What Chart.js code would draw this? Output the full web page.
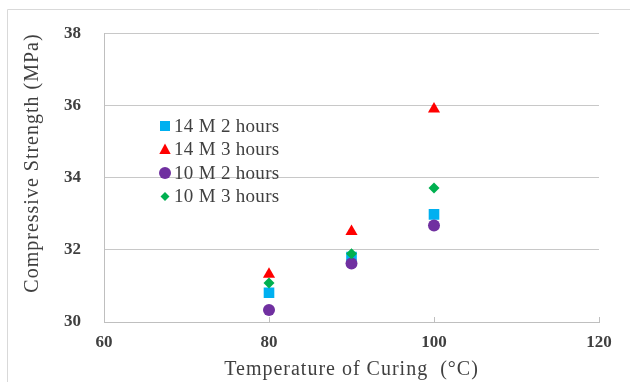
<!DOCTYPE html>
<html>
<head>
<meta charset="utf-8">
<script src="https://cdn.jsdelivr.net/npm/chart.js@4"></script>
<style>
html,body{margin:0;padding:0;background:#fff;overflow:hidden;}
#wrap{width:630px;height:382px;}
</style>
</head>
<body>
<div id="wrap"><canvas id="chart" width="630" height="382"></canvas></div>
<script>
// data
const temps = [80, 90, 100];
const s14M2h = [30.81, 31.80, 32.98];
const s14M3h = [31.32, 32.51, 35.90];
const s10M2h = [30.33, 31.62, 32.67];
const s10M3h = [31.08, 31.89, 33.71];
const seriesLabels = ['14 M 2 hours', '14 M 3 hours', '10 M 2 hours', '10 M 3 hours'];
const xTicks = [60, 80, 100, 120];
const yTicks = [30, 32, 34, 36, 38];
const xTitle = 'Temperature of Curing  (\u00B0C)';
const yTitle = 'Compressive Strength (MPa)';

const textColor = '#404040';
const serif = "'Liberation Serif', 'Times New Roman', serif";

function pts(arr){
    return temps.map((t, i) => ({x: t, y: arr[i]}));
}

// legend markers (drawn by hand, inside the plot)
function drawMarker(ctx, style, color, x, y, r){
    ctx.fillStyle = color;
    ctx.beginPath();
    if(style === 'rect'){
        ctx.rect(x - r, y - r, 2*r, 2*r);
    } else if(style === 'triangle'){
        ctx.moveTo(x, y - r);
        ctx.lineTo(x + r*0.95, y + r*0.75);
        ctx.lineTo(x - r*0.95, y + r*0.75);
        ctx.closePath();
    } else if(style === 'circle'){
        ctx.arc(x, y, r, 0, Math.PI*2);
    } else {
        ctx.moveTo(x, y - r);
        ctx.lineTo(x + r, y);
        ctx.lineTo(x, y + r);
        ctx.lineTo(x - r, y);
        ctx.closePath();
    }
    ctx.fill();
}

const extras = {
    id: 'extras',
    beforeDraw(chart){
        // outer frame: only top and left edges show
        const ctx = chart.ctx;
        ctx.save();
        ctx.strokeStyle = '#d9d9d9';
        ctx.lineWidth = 1;
        ctx.beginPath();
        ctx.moveTo(7.5, 382);
        ctx.lineTo(7.5, 9.5);
        ctx.lineTo(630, 9.5);
        ctx.stroke();
        ctx.restore();
    },
    afterDraw(chart){
        const ctx = chart.ctx;
        const area = chart.chartArea;
        const xs = chart.scales.x;
        ctx.save();

        // inner tick marks on the x axis
        ctx.strokeStyle = '#bfbfbf';
        ctx.lineWidth = 1;
        ctx.beginPath();
        xTicks.slice(1).forEach(v => {
            const px = Math.round(xs.getPixelForValue(v)) + 0.5;
            ctx.moveTo(px, area.bottom);
            ctx.lineTo(px, area.bottom - 5);
        });
        ctx.stroke();

        ctx.fillStyle = textColor;
        ctx.font = '20px ' + serif;
        ctx.letterSpacing = '1px';
        ctx.textAlign = 'center';
        ctx.textBaseline = 'middle';
        // x title
        ctx.fillText(xTitle, (area.left + area.right)/2, 370);
        // y title
        ctx.save();
        ctx.translate(33, 163);
        ctx.rotate(-Math.PI/2);
        ctx.fillText(yTitle, 0, 0);
        ctx.restore();

        // legend
        const sizes = [5, 6, 6, 4.5];
        ctx.font = '19px ' + serif;
        ctx.letterSpacing = '0.3px';
        ctx.textAlign = 'left';
        chart.data.datasets.forEach((ds, i) => {
            const y = 126 + i*23.5;
            drawMarker(ctx, ds.pointStyle, ds.backgroundColor, 165, y, sizes[i]);
            ctx.fillStyle = textColor;
            ctx.fillText(ds.label, 174, y + 1);
        });
        ctx.restore();
    }
};

new Chart(document.getElementById('chart'), {
    type: 'scatter',
    data: {
        datasets: [
            {label: seriesLabels[0], data: pts(s14M2h), pointStyle: 'rect', pointRadius: 7.5,
             backgroundColor: '#00B0F0', borderColor: '#00B0F0', borderWidth: 0, order: 4},
            {label: seriesLabels[1], data: pts(s14M3h), pointStyle: 'triangle', pointRadius: 7,
             backgroundColor: '#FF0000', borderColor: '#FF0000', borderWidth: 0, order: 3},
            {label: seriesLabels[2], data: pts(s10M2h), pointStyle: 'circle', pointRadius: 6,
             backgroundColor: '#7030A0', borderColor: '#7030A0', borderWidth: 0, order: 2},
            {label: seriesLabels[3], data: pts(s10M3h), pointStyle: 'rectRot', pointRadius: 5.5,
             backgroundColor: '#00B050', borderColor: '#00B050', borderWidth: 0, order: 1}
        ]
    },
    options: {
        responsive: false,
        animation: false,
        devicePixelRatio: 1,
        events: [],
        layout: {padding: {left: 0, right: 31, top: 31, bottom: 0}},
        plugins: {legend: {display: false}, tooltip: {enabled: false}},
        scales: {
            x: {
                type: 'linear',
                min: xTicks[0], max: xTicks[xTicks.length - 1],
                afterBuildTicks: s => { s.ticks = xTicks.map(v => ({value: v})); },
                afterFit: s => { s.height = 60; },
                ticks: {color: textColor, padding: 2, font: {family: serif, size: 17, weight: 'bold'}},
                grid: {display: false},
                border: {color: '#bfbfbf'}
            },
            y: {
                min: yTicks[0], max: yTicks[yTicks.length - 1],
                afterBuildTicks: s => { s.ticks = yTicks.map(v => ({value: v})); },
                afterFit: s => { s.width = 104; },
                ticks: {color: textColor, padding: 23, font: {family: serif, size: 17, weight: 'bold'}},
                grid: {drawTicks: false, color: '#c8c8c8'},
                border: {color: '#bfbfbf'}
            }
        }
    },
    plugins: [extras]
});
</script>
</body>
</html>
